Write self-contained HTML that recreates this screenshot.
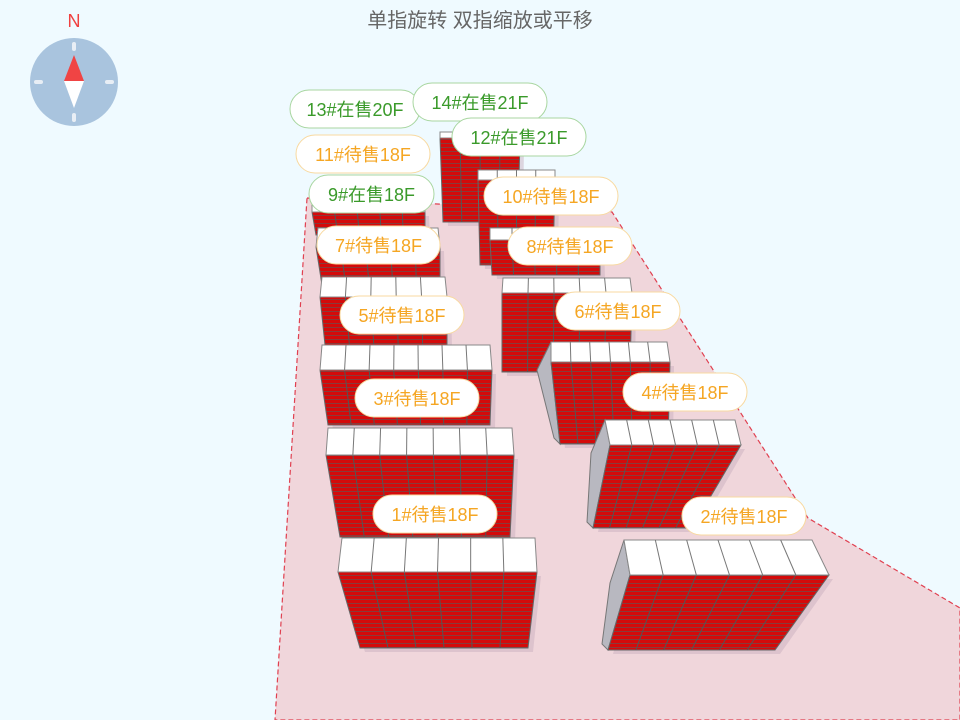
<!DOCTYPE html>
<html><head><meta charset="utf-8"><style>
html,body{margin:0;padding:0;background:#effaff;}
svg{display:block;font-family:"Liberation Sans","Noto Sans CJK SC",sans-serif;}
</style></head><body>
<svg id="s" width="960" height="720" viewBox="0 0 960 720" xmlns="http://www.w3.org/2000/svg">
<rect width="960" height="720" fill="#effaff"/>
<polygon points="307,198 612,212 808,518 960,608 960,720 275,720" fill="#f0d6db" stroke="#e04050" stroke-width="1.2" stroke-dasharray="5,3"/>
<text x="480" y="27" font-size="20" fill="#666" text-anchor="middle">单指旋转 双指缩放或平移</text>
<text x="74" y="27" font-size="18" fill="#f04040" text-anchor="middle">N</text>
<circle cx="74" cy="82" r="44" fill="#a9c4de"/>
<rect x="72" y="42" width="4" height="9" rx="2" fill="#e8eef5"/>
<rect x="72" y="113" width="4" height="9" rx="2" fill="#e8eef5"/>
<rect x="34" y="80" width="9" height="4" rx="2" fill="#e8eef5"/>
<rect x="105" y="80" width="9" height="4" rx="2" fill="#e8eef5"/>
<polygon points="74,55 64,81 84,81" fill="#f04444"/>
<polygon points="64,81 84,81 74,108" fill="#fff"/>
<g id="b"></g>
<g id="l"></g>
</svg>
<script>
var B=[
[440,520,132, 440,520,138, 443,518,222, 4,0],
[478,555,170, 478,555,180, 480,553,265, 4,0],
[312,425,198, 312,425,212, 316,425,235, 5,0],
[490,600,228, 490,600,240, 492,600,275, 5,0],
[318,438,228, 316,440,247, 322,440,285, 5,0],
[322,445,277, 320,447,297, 325,447,345, 5,0],
[503,630,278, 502,632,293, 502,630,372, 5,0],
[322,490,345, 320,492,370, 328,490,425, 7,0],
[551,667,342, 551,670,362, 560,668,444, 6,1],
[328,512,428, 326,514,455, 340,510,537, 7,0],
[605,735,420, 610,741,445, 593,692,528, 6,1],
[342,535,538, 338,537,572, 360,528,648, 6,0],
[624,812,540, 630,829,575, 608,775,650, 6,1]
];
var g=document.getElementById('b'),h='';
h+='<defs><pattern id="p" width="8" height="4" patternUnits="userSpaceOnUse"><rect width="8" height="4" fill="#d40a0a"/><rect y="3" width="8" height="1" fill="#8a3a3a"/></pattern></defs>';
B.forEach(function(q){
 var a=q[0],b=q[1],y0=q[2],c=q[3],d=q[4],y1=q[5],e=q[6],f=q[7],y2=q[8],n=q[9];
 h+='<polygon points="'+(c+4)+','+(y1+4)+' '+(d+4)+','+(y1+4)+' '+(f+5)+','+(y2+4)+' '+(e+5)+','+(y2+4)+'" fill="#c9b0c0" opacity="0.5"/>';
 if(q[10]){
  h+='<polygon points="'+a+','+y0+' '+c+','+y1+' '+e+','+y2+' '+(e-6)+','+(y2-6)+' '+(a-14)+','+(y1+8)+'" fill="#b8b8c0" stroke="#777" stroke-width="1"/>';
 }
 h+='<polygon points="'+c+','+y1+' '+d+','+y1+' '+f+','+y2+' '+e+','+y2+'" fill="url(#p)" stroke="#666" stroke-width="1"/>';
 for(var i=1;i<n;i++){var t=i/n;h+='<line x1="'+(c+(d-c)*t)+'" y1="'+y1+'" x2="'+(e+(f-e)*t)+'" y2="'+y2+'" stroke="#555" stroke-width="1"/>';}
 h+='<polygon points="'+a+','+y0+' '+b+','+y0+' '+d+','+y1+' '+c+','+y1+'" fill="#fff" stroke="#888" stroke-width="1"/>';
 for(var i=1;i<n;i++){var t=i/n;h+='<line x1="'+(a+(b-a)*t)+'" y1="'+y0+'" x2="'+(c+(d-c)*t)+'" y2="'+y1+'" stroke="#777" stroke-width="1"/>';}
});
g.innerHTML=h;
var L=[
[290,90,130,'13#在售20F',1],[413,83,134,'14#在售21F',1],[452,118,134,'12#在售21F',1],
[296,135,134,'11#待售18F',0],[309,175,125,'9#在售18F',1],[484,177,134,'10#待售18F',0],
[317,226,123,'7#待售18F',0],[508,227,124,'8#待售18F',0],[340,296,124,'5#待售18F',0],
[556,292,124,'6#待售18F',0],[355,379,124,'3#待售18F',0],[623,373,124,'4#待售18F',0],
[373,495,124,'1#待售18F',0],[682,497,124,'2#待售18F',0]
];
var s='';
L.forEach(function(q){
 var col=q[4]?'#3a9a2a':'#f5a623',bd=q[4]?'#a8d6a0':'#f8d9a0';
 s+='<rect x="'+q[0]+'" y="'+q[1]+'" width="'+q[2]+'" height="38" rx="19" fill="#fff" stroke="'+bd+'" stroke-width="1"/>';
 s+='<text x="'+(q[0]+q[2]/2)+'" y="'+(q[1]+26)+'" font-size="18" fill="'+col+'" text-anchor="middle">'+q[3]+'</text>';
});
document.getElementById('l').innerHTML=s;
</script>
</body></html>
